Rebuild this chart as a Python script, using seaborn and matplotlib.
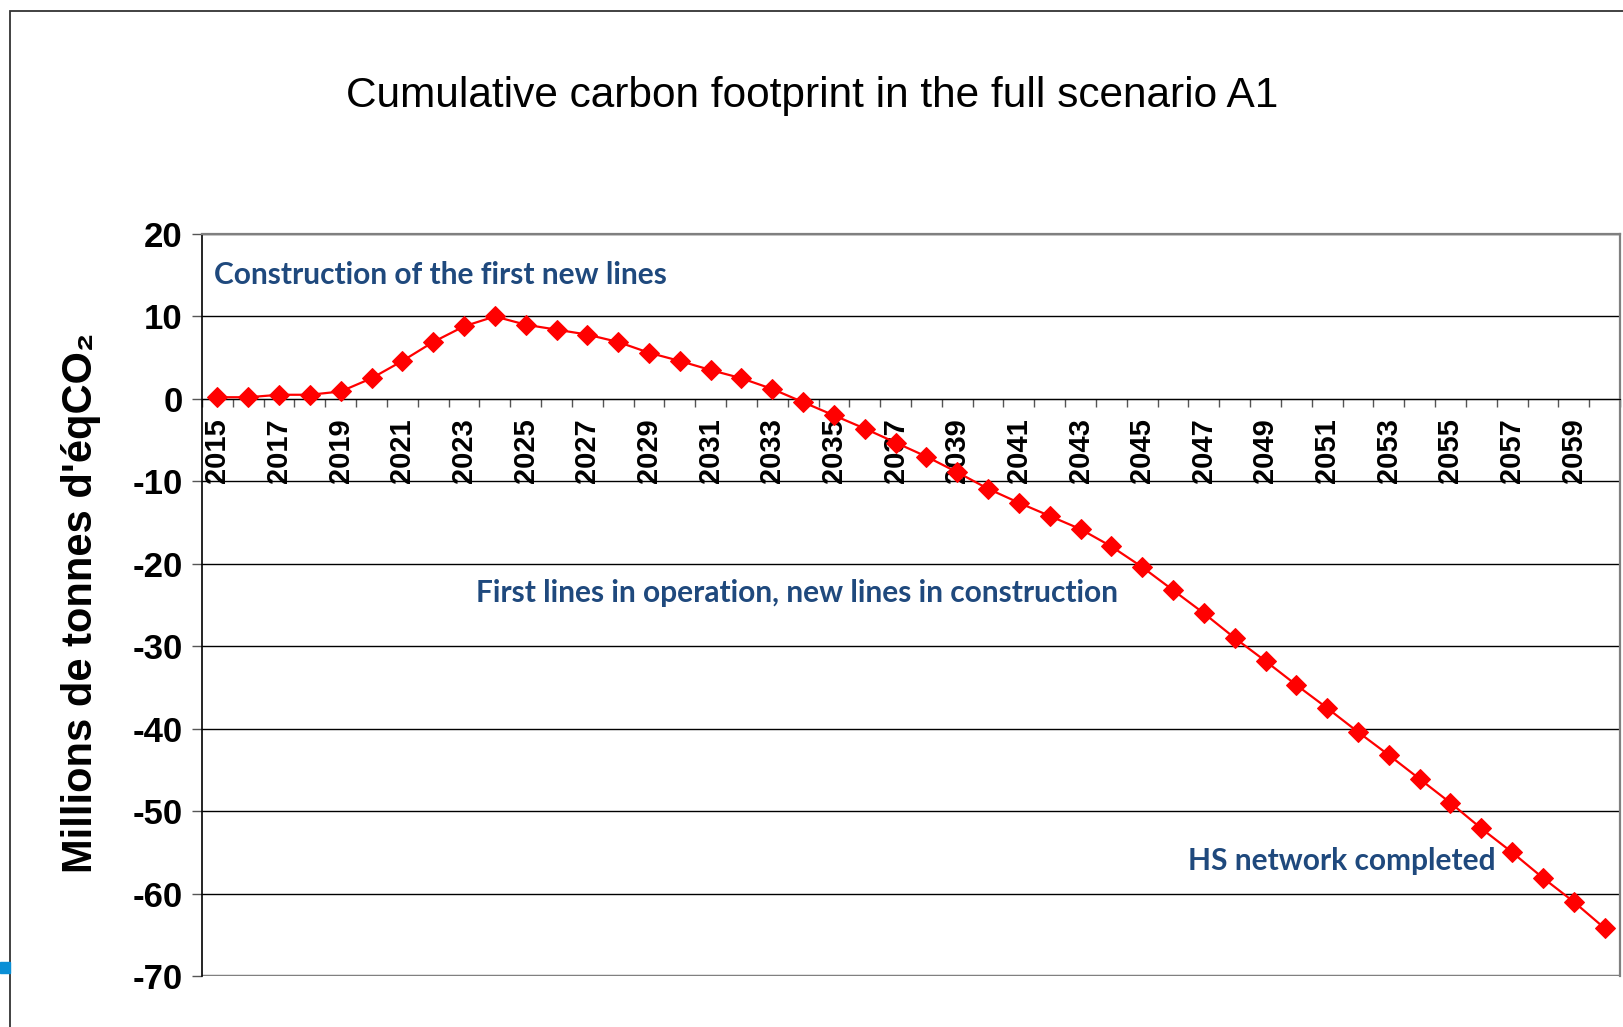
import numpy as np
import pandas as pd
import seaborn as sns
import matplotlib.pyplot as plt
from matplotlib.patches import Rectangle

years = list(range(2015, 2061))
footprint = [0.2, 0.2, 0.5, 0.5, 0.9, 2.5, 4.6, 6.9, 8.8, 10.0,
             9.0, 8.4, 7.8, 6.9, 5.6, 4.6, 3.5, 2.5, 1.2, -0.4,
             -2.0, -3.6, -5.3, -7.0, -8.9, -10.9, -12.6, -14.2, -15.8, -17.9,
             -20.4, -23.2, -26.0, -29.0, -31.8, -34.7, -37.5, -40.4, -43.2, -46.1,
             -49.0, -52.1, -55.0, -58.1, -61.0, -64.2]
yticks = [20, 10, 0, -10, -20, -30, -40, -50, -60, -70]

title = 'Cumulative carbon footprint in the full scenario A1'
ylabel = "Millions de tonnes d'éqCO₂"
notes = ['Construction of the first new lines',
         'First lines in operation, new lines in construction',
         'HS network completed']
note_pos = [(-0.1, 15.0), (8.4, -23.5), (31.5, -56.0)]

sns.set_style('white')
plt.rcParams['font.family'] = ['Liberation Sans', 'DejaVu Sans']
plt.rcParams['text.color'] = 'black'
plt.rcParams['xtick.color'] = 'black'
plt.rcParams['ytick.color'] = 'black'

df = pd.DataFrame({'idx': np.arange(len(years)), 'year': years, 'value': footprint})

W, H = 1623, 1027
fig = plt.figure(figsize=(W / 100, H / 100), dpi=100)
ax = fig.add_axes([202 / W, 1 - 976 / H, 1418 / W, 742 / H])

sns.lineplot(data=df, x='idx', y='value', color='red', marker='D',
             markersize=10.5, markeredgecolor='red', linewidth=1.6, ax=ax, zorder=3)

ax.set_xlim(-0.5, len(years) - 0.5)
ax.set_ylim(-70, 20)
ax.set_xlabel('')
ax.set_ylabel('')

# y axis
ax.set_yticks(yticks)
ax.set_yticklabels([str(v) for v in yticks], fontsize=25, fontweight='bold')
ax.tick_params(axis='y', left=True, length=7, width=1, color='#555555', pad=7)
ax.grid(axis='y', color='black', lw=1)
ax.grid(axis='x', visible=False)

# x axis crosses at zero, labels every other year
ax.spines['bottom'].set_position(('data', 0))
ax.spines['bottom'].set_color('black')
ax.set_xticks(df['idx'][::2])
ax.set_xticklabels([str(y) for y in years[::2]], rotation=90,
                   fontsize=21, fontweight='bold', va='top')
ax.set_xticks(np.arange(-0.5, len(years), 1), minor=True)
ax.tick_params(axis='x', which='major', length=0, pad=14)
ax.tick_params(axis='x', which='minor', bottom=True, length=6, width=1,
               color='#555555', direction='out')

ax.spines['left'].set_color('black')
ax.spines['left'].set_linewidth(1.2)
for s in ['top', 'right']:
    ax.spines[s].set_color('#808080')
    ax.spines[s].set_linewidth(1.6)
ax.axhline(-70, color='#808080', lw=2.5, zorder=1)

for txt, (x, y) in zip(notes, note_pos):
    ax.text(x, y, txt, ha='left', va='center', fontsize=21.5, fontweight='bold',
            color='#1F497D', family=['Lato', 'DejaVu Sans'])

fig.text(812 / W, 1 - 96 / H, title, ha='center', va='center', fontsize=30.5)
fig.text(81 / W, 1 - 603 / H, ylabel, rotation=90, ha='center', va='center',
         fontsize=30, fontweight='bold')

# slide frame and small marker on the left edge
fig.patches.append(Rectangle((10 / W, -0.1), 1.2, 1.1 - 11 / H, transform=fig.transFigure,
                             fill=False, ec='#333333', lw=1.3))
fig.patches.append(Rectangle((0, 1 - 973 / H), 10 / W, 11 / H, transform=fig.transFigure,
                             color='#0A8FD6'))

fig.savefig('out.png', dpi=100)
